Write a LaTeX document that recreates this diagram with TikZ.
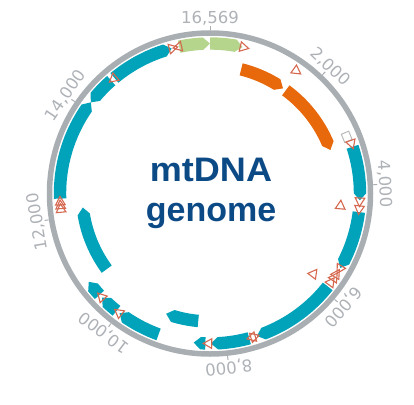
\documentclass[tikz,border=0pt]{standalone}
\usepackage{fontspec}
\setmainfont{Liberation Sans}
\newfontfamily\lblfont{DejaVu Sans}
\definecolor{cRing}{HTML}{A9AEB3}
\definecolor{cTeal}{HTML}{00A3B9}
\definecolor{cOrange}{HTML}{E8680C}
\definecolor{cGreen}{HTML}{B5D48C}
\definecolor{cTrna}{HTML}{D5684E}
\definecolor{cTitle}{HTML}{0C4A86}
\definecolor{cLabel}{HTML}{AEB2B7}
\definecolor{cBox}{HTML}{B4B4B4}
% #1 start kb, #2 end kb, #3 radius, #4 colour, #5 tip at end, #6 tip at start
\newcommand\gband[6]{%
  \pgfmathsetmacro\aA{90-#1*21.72732}%
  \pgfmathsetmacro\aB{90-#2*21.72732}%
  \pgfmathsetmacro\dT{7/#3*180/pi}%
  \pgfmathsetmacro\aAs{\aA-#6*\dT}%
  \pgfmathsetmacro\aBs{\aB+#5*\dT}%
  \pgfmathsetmacro\ro{#3+6.2}%
  \pgfmathsetmacro\ri{#3-6.2}%
  \fill[#4] (\aAs:\ro pt) arc[start angle=\aAs, end angle=\aBs, radius=\ro pt]
    -- (\aB:#3 pt) -- (\aBs:\ri pt)
    arc[start angle=\aBs, end angle=\aAs, radius=\ri pt] -- (\aA:#3 pt) -- cycle;
}
% #1 mid kb, #2 radius, #3 direction (1 clockwise, -1 anticlockwise)
\newcommand\trna[3]{%
  \pgfmathsetmacro\aM{90-#1*21.72732}%
  \pgfmathsetmacro\rO{#2+4.8}%
  \pgfmathsetmacro\rI{#2-4.8}%
  \pgfmathsetmacro\hB{4.3*#3}%
  \pgfmathsetmacro\hT{-4.3*#3}%
  \draw[trnastyle, rotate=\aM] (\rO,\hB) -- (#2,\hT) -- (\rI,\hB) -- cycle;
}
% #1 kb, #2 text, #3 node name
\newcommand\poslabel[3]{%
  \pgfmathsetmacro\aL{90-#1*21.72732}%
  \draw[tickline] (\aL:163.5pt) -- (\aL:167.5pt);
  \node[lbl, rotate=\aL-90, anchor=base] (#3) at (\aL:169.5pt) {#2};
}
\begin{document}
\begin{tikzpicture}[x=1pt,y=1pt,
  trnastyle/.style={draw=cTrna, line width=1.1pt, line join=miter},
  tickline/.style={draw=cRing, line width=1pt},
  lbl/.style={text=cLabel, font=\lblfont\fontsize{16.5}{18}\selectfont, inner sep=0pt},
  ttl/.style={text=cTitle, font=\bfseries\fontsize{34}{40}\selectfont, inner sep=0pt}]
\useasboundingbox (-210,-210.5) rectangle (204,193.5);
\draw[cRing, line width=5.5pt] (0,0) circle[radius=160.5pt];
% tick labels
\poslabel{0}{16,569}{l0}
\poslabel{2}{2,000}{l2}
\poslabel{4}{4,000}{l4}
\poslabel{6}{6,000}{l6}
\poslabel{8}{8,000}{l8}
\poslabel{10}{10,000}{l10}
\poslabel{12}{12,000}{l12}
\poslabel{14}{14,000}{l14}
% control region
\gband{16.024}{16.5689}{150}{cGreen}{1}{0}
\gband{0}{0.576}{150}{cGreen}{1}{0}
% rRNA
\gband{0.648}{1.601}{128}{cOrange}{1}{0}
\gband{1.671}{3.229}{128}{cOrange}{1}{0}
% protein coding
\gband{3.307}{4.262}{150}{cTeal}{1}{0}
\gband{4.470}{5.511}{150}{cTeal}{1}{0}
\gband{5.904}{7.445}{150}{cTeal}{1}{0}
\gband{7.586}{8.269}{150}{cTeal}{1}{0}
\gband{8.366}{8.572}{150}{cTeal}{1}{0}
\gband{8.527}{9.207}{128}{cTeal}{1}{0}
\gband{9.207}{9.990}{150}{cTeal}{1}{0}
\gband{10.059}{10.404}{150}{cTeal}{1}{0}
\gband{10.470}{10.766}{150}{cTeal}{1}{0}
\gband{10.760}{12.137}{128}{cTeal}{1}{0}
\gband{12.337}{14.148}{150}{cTeal}{1}{0}
\gband{14.149}{14.673}{150}{cTeal}{0}{1}
\gband{14.747}{15.887}{150}{cTeal}{1}{0}
% gap marker
\draw[cBox, line width=0.9pt, fill=white, rotate=90-3.107*21.72732] (144,-4.5) rectangle (152,4.5);
% tRNAs
\trna{0.612}{150}{1}
\trna{1.636}{150}{1}
\trna{3.267}{150}{1}
\trna{4.297}{150}{1}
\trna{4.3645}{131}{-1}
\trna{4.4355}{150}{1}
\trna{5.5455}{150}{1}
\trna{5.621}{150}{-1}
\trna{5.693}{150}{-1}
\trna{5.7935}{150}{-1}
\trna{5.8585}{131}{-1}
\trna{7.480}{150}{-1}
\trna{7.5515}{150}{1}
\trna{8.3295}{150}{1}
\trna{10.0245}{150}{1}
\trna{10.437}{150}{1}
\trna{12.172}{150}{1}
\trna{12.236}{150}{1}
\trna{12.301}{150}{1}
\trna{14.708}{150}{-1}
\trna{15.9205}{150}{1}
\trna{15.9895}{150}{-1}
% title
\node[ttl, anchor=base, xscale=1.06] (title1) at (1,12.3) {mtDNA};
\node[ttl, anchor=base] (title2) at (1,-27.7) {genome};
\end{tikzpicture}
\end{document}
